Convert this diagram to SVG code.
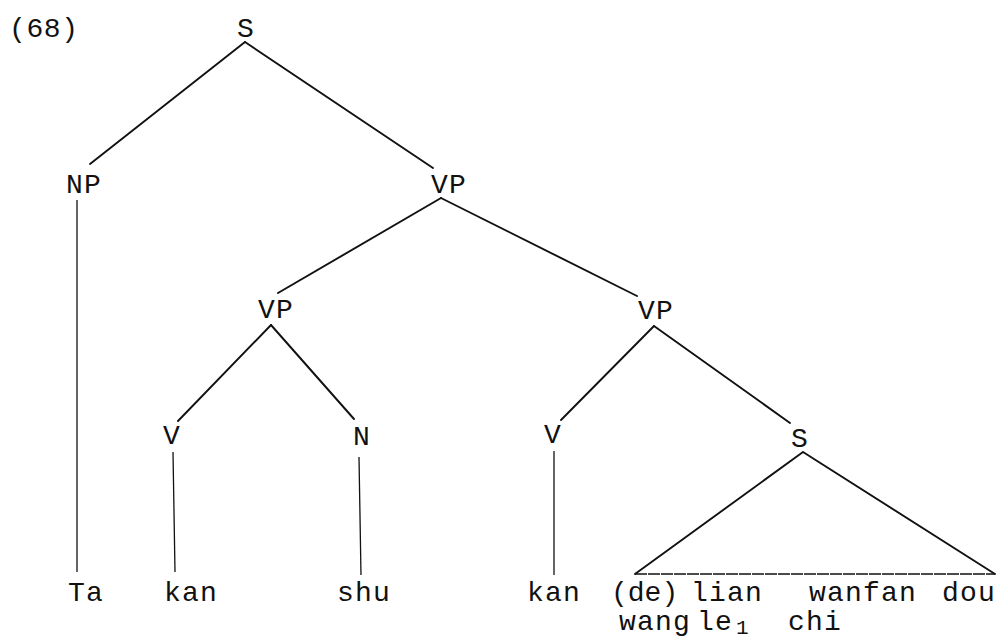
<svg xmlns="http://www.w3.org/2000/svg" width="1002" height="639" viewBox="0 0 1002 639">
<style>
text{font-family:"Liberation Mono","Courier New",monospace;font-size:28px;fill:#111;letter-spacing:1.2px}
.c{text-anchor:middle}
.e{stroke:#111;stroke-width:1.9;fill:none;stroke-linecap:round}
.v{stroke:#111;stroke-width:1.3;fill:none}
.b{stroke:#111;stroke-width:1.6;fill:none;stroke-dasharray:12 1}
.sub{font-size:21px;letter-spacing:0}
</style>
<rect width="1002" height="639" fill="#fff"/>
<g id="connectors">
<line class="e" x1="245" y1="42" x2="90" y2="164"/>
<line class="e" x1="245" y1="42" x2="433" y2="168"/>
<line class="e" x1="441" y1="198" x2="278" y2="293"/>
<line class="e" x1="441" y1="198" x2="637" y2="296"/>
<line class="e" x1="271" y1="325" x2="178" y2="421"/>
<line class="e" x1="271" y1="325" x2="354" y2="419"/>
<line class="e" x1="654" y1="326" x2="561" y2="420"/>
<line class="e" x1="654" y1="326" x2="790" y2="423"/>
<line class="v" x1="77" y1="200" x2="77" y2="572"/>
<line class="v" x1="173" y1="452" x2="175" y2="572"/>
<line class="v" x1="359" y1="457" x2="361" y2="575"/>
<line class="v" x1="554" y1="451" x2="554" y2="575"/>
</g>
<g id="label-68"><text x="9" y="37" style="letter-spacing:0.6px">(68)</text></g>
<g id="node-S-top"><text class="c" x="246" y="37">S</text></g>
<g id="node-NP"><text class="c" x="84" y="193">NP</text></g>
<g id="node-VP-top"><text class="c" x="449" y="193">VP</text></g>
<g id="node-VP-left"><text class="c" x="276" y="318">VP</text></g>
<g id="node-VP-right"><text class="c" x="656" y="319">VP</text></g>
<g id="node-V-left"><text class="c" x="172" y="444">V</text></g>
<g id="node-N"><text class="c" x="362" y="445">N</text></g>
<g id="node-V-right"><text class="c" x="553" y="443">V</text></g>
<g id="node-S-low"><text class="c" x="800" y="447">S</text>
<path class="e" d="M803 452 L635 574 M803 452 L995 574"/>
<line class="b" x1="635" y1="574" x2="995" y2="574"/>
</g>
<g id="leaf-Ta"><text class="c" x="86" y="601">Ta</text></g>
<g id="leaf-kan1"><text class="c" x="191" y="601">kan</text></g>
<g id="leaf-shu"><text class="c" x="364" y="601">shu</text></g>
<g id="leaf-kan2"><text class="c" x="554" y="601">kan</text></g>
<g id="leaf-clause">
<text y="601"><tspan x="611" style="letter-spacing:0">(de)</tspan> <tspan x="691">lian</tspan> <tspan x="809">wanfan</tspan> <tspan x="942">dou</tspan></text>
<text y="630"><tspan x="619">wang</tspan> <tspan x="697">le</tspan><tspan class="sub" x="736" y="634">1</tspan> <tspan x="788" y="630">chi</tspan></text>
</g>
</svg>
